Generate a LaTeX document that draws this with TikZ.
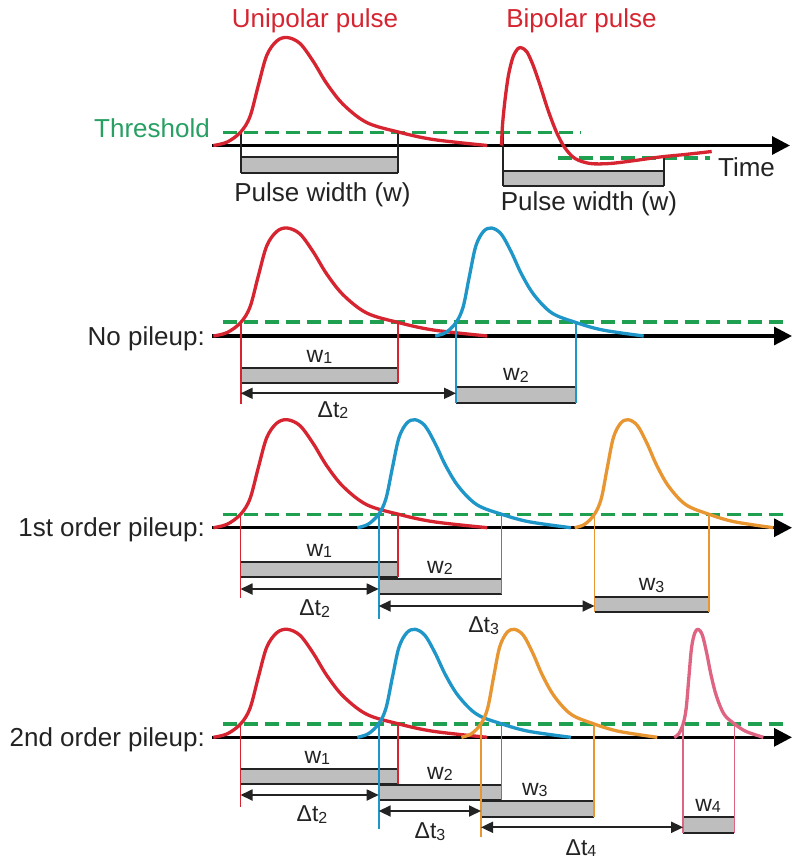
\documentclass[tikz,border=0pt]{standalone}
\usepackage{fontspec}
\setmainfont{Liberation Sans}
\usetikzlibrary{arrows.meta}
\definecolor{pred}{RGB}{214,36,48}
\definecolor{pblue}{RGB}{30,150,200}
\definecolor{porange}{RGB}{232,150,50}
\definecolor{ppink}{RGB}{222,100,130}
\definecolor{thr}{RGB}{30,160,80}
\definecolor{thrtext}{RGB}{40,160,100}
\definecolor{boxgray}{RGB}{190,190,190}
\definecolor{dark}{RGB}{35,35,35}
\newcommand\sub[1]{\raisebox{-1.5pt}{\fontsize{16}{16}\selectfont #1}}
\newcommand\drawpulse[4]{\draw[pulse,#1,shift={(#2,#3)},xscale=#4] plot[smooth,tension=0.55] coordinates {(-74,0) (-60,-3.5) (-46.6,-13.5) (-37.3,-29) (-29,-60) (-20.6,-90) (-10.6,-104.5) (0,-108) (12.7,-102) (26,-84) (39.4,-62) (56,-41) (79.4,-23) (111,-13.5) (146,-6) (200,0)};}
\newcommand\wbox[4]{\fill[boxgray] (#1,#3) rectangle (#2,#4);
  \draw[boxline] (#1,#3) -- (#2,#3); \draw[boxline] (#1,#4) -- (#2,#4);}
\tikzset{
  pulse/.style={line width=3.3pt, line join=round},
  axisline/.style={line width=3.2pt, black, -{Triangle[length=18pt,width=18pt]}},
  thrline/.style={thr, line width=3.3pt, dash pattern=on 14pt off 7pt},
  vline/.style={line width=1.7pt},
  boxline/.style={dark, line width=2.2pt},
  dtarrow/.style={dark, line width=1.8pt, {Triangle[length=12pt,width=11pt]}-{Triangle[length=12pt,width=11pt]}},
  lab/.style={font=\fontsize{26}{30}\selectfont, inner sep=0pt, text=dark},
  slab/.style={font=\fontsize{23}{26}\selectfont, inner sep=0pt, text=dark, anchor=base},
}
\begin{document}
\begin{tikzpicture}[x=1pt,y=-1pt]
\useasboundingbox (0,0) rectangle (800,863);
\fill[white] (0,0) rectangle (800,863);

% ---------------- Row 1 ----------------
\coordinate (a1s) at (212,145.5); \coordinate (a1e) at (790,145.5);
\draw[axisline] (a1s) -- (a1e);
\coordinate (t1s) at (223,132.5); \coordinate (t1e) at (581,132.5);
\draw[thrline] (t1s) -- (t1e);
\coordinate (n1s) at (558,158); \coordinate (n1e) at (710,158);
\draw[thrline] (n1s) -- (n1e);
\wbox{240.7}{398.3}{157.3}{172.7}
\draw[vline,dark] (240.7,132.5) -- (240.7,172.7);
\draw[vline,dark] (398.3,132.5) -- (398.3,172.7);
\wbox{502.7}{664}{170.7}{185.7}
\draw[vline,dark] (502.7,132.5) -- (502.7,185.7);
\draw[vline,dark] (664,158) -- (664,185.7);
\drawpulse{pred}{287.3}{145.5}{1}
\draw[pulse,pred] plot[smooth,tension=0.5] coordinates {(501.5,145.5) (502.5,125) (505,100) (508.5,75) (513,57) (518,48.5) (522,48) (527,52) (533,65) (540,85) (548,110) (556.7,132.7) (565,148) (575,158.5) (590,163.5) (610,163.5) (635,160.5) (660,157) (685,154.5) (711.7,151.5)};
\node[lab,text=pred,anchor=base] (tuni) at (315,27) {Unipolar pulse};
\node[lab,text=pred,anchor=base] (tbi) at (581.5,27) {Bipolar pulse};
\node[lab,text=thrtext,anchor=base east] (tthr) at (210,137) {Threshold};
\node[lab,anchor=base] (pw1) at (322.5,201.7) {Pulse width (w)};
\node[lab,anchor=base] (pw2) at (589,210) {Pulse width (w)};
\node[lab,anchor=base] (ttime) at (746.5,176.7) {Time};

% ---------------- Row 2 ----------------
\coordinate (a2s) at (212,336); \coordinate (a2e) at (792,336);
\draw[axisline] (a2s) -- (a2e);
\coordinate (t2s) at (222.6,322); \coordinate (t2e) at (783,322);
\draw[thrline] (t2s) -- (t2e);
\drawpulse{pred}{287.3}{336}{1}
\drawpulse{pblue}{491.5}{336}{0.761}
\wbox{240.7}{398.3}{368.3}{383.3}
\wbox{456}{576}{386.7}{402.7}
\draw[vline,pred] (240.7,322) -- (240.7,404);
\draw[vline,pred] (398.3,322) -- (398.3,383.3);
\draw[vline,pblue] (456,322) -- (456,402.7);
\draw[vline,pblue] (576,322) -- (576,402.7);
\coordinate (d2a) at (240.7,393.3); \coordinate (d2b) at (456,393.3);
\draw[dtarrow] (d2a) -- (d2b);
\node[lab,anchor=base east] (rl2) at (205,345) {No pileup:};
\node[slab] (w21) at (319.5,362.3) {w\sub{1}};
\node[slab] (w22) at (516,380.7) {w\sub{2}};
\node[slab] (dt22) at (333,417) {Δt\sub{2}};

% ---------------- Row 3 ----------------
\coordinate (a3s) at (212,527.7); \coordinate (a3e) at (792,527.7);
\draw[axisline] (a3s) -- (a3e);
\coordinate (t3s) at (222.6,514.3); \coordinate (t3e) at (783,514.3);
\draw[thrline] (t3s) -- (t3e);
\drawpulse{pred}{287.3}{527.7}{1}
\drawpulse{pblue}{415}{527.7}{0.779}
\drawpulse{porange}{628.3}{527.7}{0.725}
\wbox{240.5}{398.2}{562.3}{577.3}
\wbox{378.7}{501.5}{579}{594}
\wbox{594.5}{708.8}{596.7}{611.7}
\draw[vline,pred] (240.5,514.3) -- (240.5,598.3);
\draw[vline,pred] (398.2,514.3) -- (398.2,577.3);
\draw[vline,pblue] (378.7,514.3) -- (378.7,619.3);
\draw[vline,pblue] (501.5,514.3) -- (501.5,594);
\draw[vline,porange] (594.5,514.3) -- (594.5,611.7);
\draw[vline,porange] (708.8,514.3) -- (708.8,611.7);
\coordinate (d3a) at (240.5,589); \coordinate (d3b) at (378.7,589);
\draw[dtarrow] (d3a) -- (d3b);
\coordinate (d3c) at (378.7,606); \coordinate (d3d) at (594.5,606);
\draw[dtarrow] (d3c) -- (d3d);
\node[lab,anchor=base east] (rl3) at (205,536.7) {1st order pileup:};
\node[slab] (w31) at (319.3,556.3) {w\sub{1}};
\node[slab] (w32) at (440,573) {w\sub{2}};
\node[slab] (w33) at (651.6,590.7) {w\sub{3}};
\node[slab] (dt32) at (314.7,615.5) {Δt\sub{2}};
\node[slab] (dt33) at (483.6,632.5) {Δt\sub{3}};

% ---------------- Row 4 ----------------
\coordinate (a4s) at (212,737.3); \coordinate (a4e) at (792,737.3);
\draw[axisline] (a4s) -- (a4e);
\coordinate (t4s) at (222.6,724); \coordinate (t4e) at (783,724);
\draw[thrline] (t4s) -- (t4e);
\drawpulse{pred}{287.3}{737.3}{1}
\drawpulse{pblue}{415}{737.3}{0.779}
\drawpulse{porange}{514.3}{737.3}{0.715}
\drawpulse{ppink}{698.3}{737.3}{0.325}
\wbox{240.5}{398.2}{769}{784}
\wbox{378.7}{501.5}{785}{800}
\wbox{481}{593.7}{801}{816.7}
\wbox{683.2}{734.4}{817.3}{833.3}
\draw[vline,pred] (240.5,724) -- (240.5,806.7);
\draw[vline,pred] (398.2,724) -- (398.2,784);
\draw[vline,pblue] (378.7,724) -- (378.7,829.3);
\draw[vline,pblue] (501.5,724) -- (501.5,800);
\draw[vline,porange] (481,724) -- (481,836.7);
\draw[vline,porange] (593.7,724) -- (593.7,816.7);
\draw[vline,ppink] (683.2,724) -- (683.2,833.3);
\draw[vline,ppink] (734.4,724) -- (734.4,833.3);
\coordinate (d4a) at (240.5,795); \coordinate (d4b) at (378.7,795);
\draw[dtarrow] (d4a) -- (d4b);
\coordinate (d4c) at (378.7,811); \coordinate (d4d) at (481,811);
\draw[dtarrow] (d4c) -- (d4d);
\coordinate (d4e) at (481,827.3); \coordinate (d4f) at (683.2,827.3);
\draw[dtarrow] (d4e) -- (d4f);
\node[lab,anchor=base east] (rl4) at (205,746.3) {2nd order pileup:};
\node[slab] (w41) at (317.3,763) {w\sub{1}};
\node[slab] (w42) at (440,779) {w\sub{2}};
\node[slab] (w43) at (534.8,795) {w\sub{3}};
\node[slab] (w44) at (708,811.3) {w\sub{4}};
\node[slab] (dt42) at (312,821.5) {Δt\sub{2}};
\node[slab] (dt43) at (430,838.5) {Δt\sub{3}};
\node[slab] (dt44) at (581,855) {Δt\sub{4}};
\end{tikzpicture}
\end{document}
